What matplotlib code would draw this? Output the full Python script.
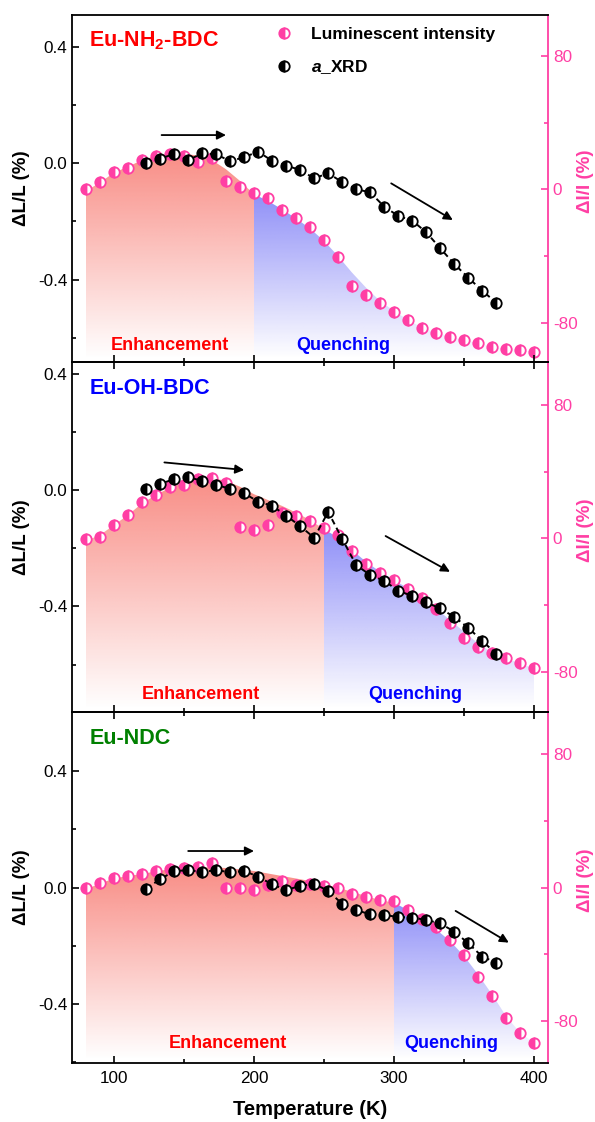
"""Thermal expansion vs. luminescence for three Eu-MOFs, stacked in three panels."""
import matplotlib
matplotlib.use("Agg")
import matplotlib.pyplot as plt
import numpy as np
from matplotlib.colors import to_rgb
from matplotlib.patches import Polygon
from matplotlib.ticker import FixedLocator

plt.rcParams["font.family"] = ["Liberation Sans", "DejaVu Sans"]
plt.rcParams["axes.unicode_minus"] = False
plt.rcParams["mathtext.fontset"] = "custom"
plt.rcParams["mathtext.rm"] = "Liberation Sans:bold"
plt.rcParams["mathtext.bf"] = "Liberation Sans:bold"
plt.rcParams["mathtext.it"] = "Liberation Sans:italic:bold"

PINK = "#ff3fa4"
RED_FILL = "#f5483c"
BLUE_FILL = "#2020f0"

# temperatures (K)
T_LUM = [80, 90, 100, 110, 120, 130, 140, 150, 160, 170, 180, 190, 200, 210, 220, 230,
         240, 250, 260, 270, 280, 290, 300, 310, 320, 330, 340, 350, 360, 370, 380, 390, 400]
T_XRD = [123, 133, 143, 153, 163, 173, 183, 193, 203, 213, 223, 233, 243, 253, 263, 273,
         283, 293, 303, 313, 323, 333, 343, 353, 363, 373]

NAMES = ["Eu-NH$_2$-BDC", "Eu-OH-BDC", "Eu-NDC"]
NAME_COLORS = ["#ff0000", "#0000ff", "#008000"]
SPLIT_T = [200, 250, 300]

# luminescent intensity dI/I (%)
LUM_NH2 = [0, 4.4, 10.4, 12.6, 17.6, 20, 21.2, 20, 16.2, 18.6, 5.2, 1.6, -2, -5, -12.4, -17.4,
           -22.6, -30.4, -40.8, -58, -63.4, -68, -73.4, -78.4, -83, -86, -88.4, -90.4, -92.4,
           -94.4, -95.6, -96.4, -97.4]
LUM_OH = [-0.6, 0.6, 8, 14, 22, 26.2, 31, 32, 35.6, 36.2, 33, 7, 5, 8.2, 15, 13.6, 10.2, 6.4,
          2, -7.6, -15.4, -21, -25, -30.2, -35.6, -42.6, -50.6, -60, -65.4, -69, -71.6,
          -74.6, -77.6]
LUM_NDC = [-0.4, 3, 5.6, 7, 8.2, 9.8, 11.2, 11.8, 12.2, 14.8, -0.4, -0.4, -1.6, 1.6, 4.2, 1.4,
           2.2, 1, 0, -3.8, -5.4, -7.6, -8, -13.4, -18.8, -23.8, -31.4, -40.4, -53.4, -65,
           -78.4, -87, -93]

# shaded envelope (dI/I units)
ENV_NH2 = [-1, 4, 10, 13.5, 17.5, 20, 21.2, 21.3, 20.2, 17.5, 12, 5, -3, -7, -12, -17.5,
           -23.5, -31, -40, -50, -59, -67, -73, -78.4, -83, -86, -88.4, -90.4, -92.4, -94.4,
           -95.6, -96.4, -97.4]
ENV_OH = [-1.5, 2, 8, 14, 21, 26, 30.5, 33.5, 35.8, 36.2, 34.5, 31, 26.5, 23, 19.5, 15.5, 11,
          5.5, 0.5, -7, -14, -20, -25, -30, -35.5, -42, -49, -56, -63, -68.5, -72, -75, -78]
ENV_NDC = [-1, 2.5, 5.5, 7, 8.2, 9.8, 11, 11.8, 12.2, 12.2, 11.8, 11, 10, 8.5, 7, 5.5, 4, 2,
           0, -2.5, -5, -7.5, -9, -13.5, -19, -25, -32, -41, -52, -64, -77, -87, -93]

# lattice parameter a from XRD, dL/L (%)
XRD_NH2 = [0.0, 0.016, 0.032, 0.011, 0.034, 0.031, 0.007, 0.021, 0.040, 0.008, -0.008, -0.023,
           -0.052, -0.034, -0.065, -0.089, -0.100, -0.149, -0.181, -0.197, -0.237, -0.292,
           -0.346, -0.393, -0.438, -0.479]
XRD_OH = [0.002, 0.021, 0.038, 0.044, 0.032, 0.017, 0.005, -0.011, -0.040, -0.054, -0.088,
          -0.124, -0.164, -0.075, -0.168, -0.258, -0.292, -0.312, -0.346, -0.364, -0.386,
          -0.407, -0.436, -0.473, -0.519, -0.562]
XRD_NDC = [-0.003, 0.029, 0.057, 0.060, 0.054, 0.060, 0.053, 0.057, 0.038, 0.011, -0.008,
           0.006, 0.013, -0.011, -0.056, -0.077, -0.092, -0.094, -0.101, -0.103, -0.111,
           -0.123, -0.151, -0.191, -0.237, -0.258]

LEFT_LIMS = [(-0.683, 0.51), (-0.763, 0.44), (-0.603, 0.604)]
RIGHT_LIMS = [(-103.6, 104.6), (-104.2, 105.8), (-105.2, 105.4)]

# arrows: ((T0, y0), (T1, y1)) in dL/L units, two per panel
ARROWS = [
    [((134, 0.097), (180, 0.097)), ((298, -0.069), (342, -0.195))],
    [((136, 0.095), (193, 0.069)), ((294, -0.158), (340, -0.281))],
    [((153, 0.126), (200, 0.126)), ((344, -0.080), (382, -0.189))],
]
# x positions (K) of the region labels: Enhancement, Quenching
REGION_LABEL_T = [(140, 264), (162, 315), (181, 341)]
REGION_LABEL_Y = [0.046, 0.05, 0.056]


def _shade(ax, t, env, t0, t1, color, ybot, alpha):
    t = np.asarray(t, dtype=float)
    env = np.asarray(env, dtype=float)
    m = (t >= t0) & (t <= t1)
    xs, ys = t[m], env[m]
    verts = [(xs[0], ybot)] + list(zip(xs, ys)) + [(xs[-1], ybot)]
    poly = Polygon(verts, closed=True, facecolor="none", edgecolor="none")
    ax.add_patch(poly)
    rgba = np.zeros((256, 1, 4))
    rgba[..., :3] = to_rgb(color)
    rgba[..., 3] = np.linspace(alpha, 0.0, 256)[:, None]
    im = ax.imshow(rgba, extent=[xs[0], xs[-1], ybot, ys.max()], aspect="auto",
                   origin="upper", interpolation="bilinear", zorder=1)
    im.set_clip_path(poly)


def _panel(fig, rect, idx, lum, env, xrd, bottom_labels):
    ax = fig.add_axes(rect)
    ax2 = ax.twinx()
    ax.set_zorder(ax2.get_zorder() + 1)
    ax.patch.set_visible(False)

    rlo, rhi = RIGHT_LIMS[idx]
    split = SPLIT_T[idx]
    _shade(ax2, T_LUM, env, 80, split, RED_FILL, rlo + 2, 0.62)
    _shade(ax2, T_LUM, env, split, 400, BLUE_FILL, rlo + 2, 0.5)
    ax2.plot(T_LUM, lum, ls="none", marker="o", ms=7.5, mew=1.3, color=PINK,
             fillstyle="left", markerfacecoloralt="white", zorder=3,
             label="Luminescent intensity")

    ax.plot(T_XRD, xrd, ls=(0, (3, 2)), lw=1.4, color="black", zorder=2)
    ax.plot(T_XRD, xrd, ls="none", marker="o", ms=7.5, mew=1.3, color="black",
            fillstyle="left", markerfacecoloralt="white", zorder=3, label="$a$_XRD")

    ax.set_xlim(70, 410)
    ax.set_ylim(*LEFT_LIMS[idx])
    ax2.set_ylim(rlo, rhi)

    ax.xaxis.set_major_locator(FixedLocator([100, 200, 300, 400]))
    ax.xaxis.set_minor_locator(FixedLocator([150, 250, 350]))
    ax.yaxis.set_major_locator(FixedLocator([-0.4, 0.0, 0.4]))
    ax.yaxis.set_minor_locator(FixedLocator([-0.6, -0.2, 0.2]))
    ax2.yaxis.set_major_locator(FixedLocator([-80, 0, 80]))
    ax2.yaxis.set_minor_locator(FixedLocator([-40, 40]))

    ax.tick_params(axis="both", which="both", direction="in", width=1.2,
                   labelsize=12.3, top=(idx > 0), right=False)
    ax.tick_params(which="major", length=5)
    ax.tick_params(which="minor", length=3)
    ax.tick_params(axis="x", labelbottom=bottom_labels, pad=6)
    ax2.tick_params(axis="y", which="both", direction="in", width=1.2, colors=PINK,
                    labelsize=12.3)
    ax2.tick_params(which="major", length=5)
    ax2.tick_params(which="minor", length=3)

    for side in ("left", "top", "bottom"):
        ax.spines[side].set_linewidth(1.3)
        ax2.spines[side].set_visible(False)
    ax.spines["right"].set_visible(False)
    ax2.spines["right"].set_color(PINK)
    ax2.spines["right"].set_linewidth(1.3)

    ax.set_ylabel("ΔL/L (%)", fontsize=13.5, fontweight="bold")
    ax.yaxis.set_label_coords(-0.088, 0.5)
    ax2.set_ylabel("ΔI/I (%)", fontsize=13.5, fontweight="bold", color=PINK)
    ax2.yaxis.set_label_coords(1.06, 0.52)

    ax.text(0.036, 0.925, NAMES[idx], transform=ax.transAxes, color=NAME_COLORS[idx],
            fontsize=15.5, fontweight="bold", va="center", ha="left")
    te, tq = REGION_LABEL_T[idx]
    ytxt = REGION_LABEL_Y[idx]
    ax.text(te, ytxt, "Enhancement", transform=ax.get_xaxis_transform(), color="#ff0000",
            fontsize=13, fontweight="bold", ha="center", va="center")
    ax.text(tq, ytxt, "Quenching", transform=ax.get_xaxis_transform(), color="#0000ff",
            fontsize=13, fontweight="bold", ha="center", va="center")

    for (p0, p1) in ARROWS[idx]:
        ax.annotate("", xy=p1, xytext=p0,
                    arrowprops=dict(arrowstyle="-|>", color="black", lw=1.3,
                                    mutation_scale=13, shrinkA=0, shrinkB=0))
    return ax, ax2


def main():
    fig = plt.figure(figsize=(5.95, 11.22), dpi=100)
    left, width = 0.121, 0.800
    rects = [
        (left, 0.6774, width, 0.3093),
        (left, 0.3654, width, 0.3119),
        (left, 0.0526, width, 0.3128),
    ]
    lums = [LUM_NH2, LUM_OH, LUM_NDC]
    envs = [ENV_NH2, ENV_OH, ENV_NDC]
    xrds = [XRD_NH2, XRD_OH, XRD_NDC]
    axes = []
    for i in range(3):
        axes.append(_panel(fig, rects[i], i, lums[i], envs[i], xrds[i], bottom_labels=(i == 2)))

    ax_top, ax2_top = axes[0]
    h1, l1 = ax2_top.get_legend_handles_labels()
    h2, l2 = ax_top.get_legend_handles_labels()
    ax_top.legend(h1 + h2, l1 + l2, loc="upper left", bbox_to_anchor=(0.395, 1.01),
                  frameon=False, handlelength=1.0, handletextpad=1.05, labelspacing=0.92,
                  prop=dict(size=12.5, weight="bold"))

    axes[2][0].set_xlabel("Temperature (K)", fontsize=14.5, fontweight="bold", labelpad=10)
    fig.savefig("out.png", dpi=100)
    plt.close(fig)


if __name__ == "__main__":
    main()
